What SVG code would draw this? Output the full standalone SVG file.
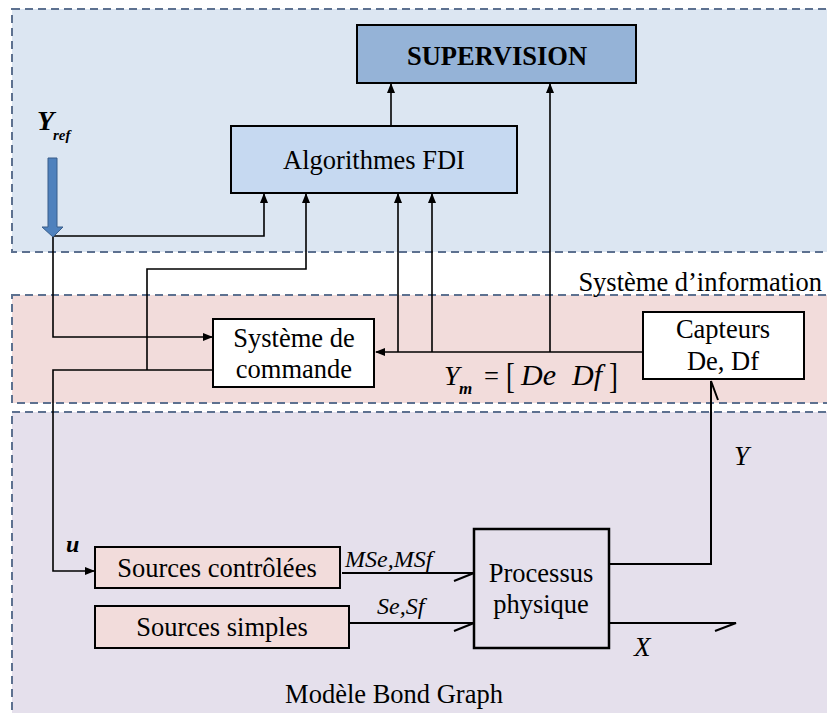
<svg xmlns="http://www.w3.org/2000/svg" width="827" height="713" viewBox="0 0 827 713">
<style>
.region{stroke:#5d7190;stroke-width:2;stroke-dasharray:8 5}
.box{stroke:#000;stroke-width:2}
.t{font-family:'Liberation Serif','Times New Roman',Times,serif;font-size:26.5px;fill:#000}
.m{font-family:'Liberation Serif','Times New Roman',Times,serif;font-style:italic;fill:#000}
.c{fill:none;stroke:#000;stroke-width:1.6}
.bond{fill:none;stroke:#000;stroke-width:2}
</style>
<defs>
<marker id="ah" markerWidth="10" markerHeight="8" refX="9" refY="4" orient="auto" markerUnits="userSpaceOnUse">
<path d="M0,0 L10,4 L0,8 Z" fill="#000"/>
</marker>
</defs>
<rect width="827" height="713" fill="#ffffff"/>
<g id="regions">
<rect class="region" x="12" y="9" width="830" height="243" fill="#dce6f2"/>
<rect class="region" x="12" y="295" width="830" height="108" fill="#f2dcdb"/>
<rect class="region" x="12" y="412" width="830" height="320" fill="#e5e0ec"/>
<text class="t" x="822" y="291" text-anchor="end">Système d’information</text>
<text class="t" x="394" y="703" text-anchor="middle">Modèle Bond Graph</text>
</g>
<g id="connectors">
<line class="c" x1="391" y1="126" x2="391" y2="84" marker-end="url(#ah)"/>
<line class="c" x1="550" y1="352" x2="550" y2="84" marker-end="url(#ah)"/>
<polyline class="c" points="53,236 264,236 264,194" marker-end="url(#ah)"/>
<polyline class="c" points="53,236 53,337 212,337" marker-end="url(#ah)"/>
<polyline class="c" points="147,370 147,269 306,269 306,194" marker-end="url(#ah)"/>
<line class="c" x1="398" y1="352" x2="398" y2="194" marker-end="url(#ah)"/>
<line class="c" x1="432" y1="352" x2="432" y2="194" marker-end="url(#ah)"/>
<line class="c" x1="643" y1="352" x2="376" y2="352" marker-end="url(#ah)"/>
<polyline class="c" points="213,370 53,370 53,571 94,571" marker-end="url(#ah)"/>
<polyline class="bond" points="609,564 711,564 711,381 718,400"/>
<polyline class="bond" points="342,573 474,573 454,581"/>
<polyline class="bond" points="349,623 474,623 454,631"/>
<polyline class="bond" points="609,623 736,623 715,631"/>
</g>
<g id="yref">
<path d="M48,158 H57 V227 H63 L53,237 L42,227 H48 Z" fill="#4f81bd" stroke="#385d8a" stroke-width="1"/>
<text class="m" x="37" y="130" font-size="28" font-weight="bold">Y</text>
<text class="m" x="53" y="140" font-size="15" font-weight="bold">ref</text>
</g>
<g id="supervision">
<rect class="box" x="357" y="25" width="279" height="58" fill="#95b3d7"/>
<text class="t" x="497" y="65" text-anchor="middle" font-weight="bold" font-size="24">SUPERVISION</text>
</g>
<g id="fdi">
<rect class="box" x="231" y="126" width="286" height="67" fill="#c6d9f1"/>
<text class="t" x="374" y="169" text-anchor="middle">Algorithmes FDI</text>
</g>
<g id="commande">
<rect class="box" x="213" y="319" width="161" height="68" fill="#ffffff"/>
<text class="t" x="294" y="347" text-anchor="middle">Système de</text>
<text class="t" x="294" y="378" text-anchor="middle">commande</text>
</g>
<g id="capteurs">
<rect class="box" x="643" y="312" width="161" height="67" fill="#ffffff"/>
<text class="t" x="723" y="338" text-anchor="middle">Capteurs</text>
<text class="t" x="723" y="370" text-anchor="middle">De, Df</text>
</g>
<g id="ym">
<text class="m" x="444" y="385" font-size="28">Y</text>
<text class="m" x="459" y="394" font-size="17" font-weight="bold">m</text>
<text class="t" x="484" y="385" font-size="28">=</text>
<text class="t" font-size="32" transform="translate(506,388) scale(1,1.35)">[</text>
<text class="m" x="521" y="385" font-size="30">De</text>
<text class="m" x="572" y="385" font-size="30">Df</text>
<text class="t" font-size="32" transform="translate(609,388) scale(1,1.35)">]</text>
</g>
<g id="sources-controlees">
<rect class="box" x="95" y="547" width="245" height="41" fill="#f2dcdb"/>
<text class="t" x="217" y="577" text-anchor="middle">Sources contrôlées</text>
</g>
<g id="sources-simples">
<rect class="box" x="95" y="606" width="254" height="42" fill="#f2dcdb"/>
<text class="t" x="222" y="636" text-anchor="middle">Sources simples</text>
</g>
<g id="processus">
<rect x="474" y="529" width="135" height="119" fill="#e5e0ec" stroke="#000" stroke-width="2.5"/>
<text class="t" x="541" y="582" text-anchor="middle">Processus</text>
<text class="t" x="541" y="613" text-anchor="middle">physique</text>
</g>
<g id="labels">
<text class="m" x="66" y="552" font-size="24" font-weight="bold">u</text>
<text class="m" x="345" y="567" font-size="24">MSe,MSf</text>
<text class="m" x="377" y="614" font-size="24">Se,Sf</text>
<text class="m" x="734" y="465" font-size="27">Y</text>
<text class="m" x="634" y="656" font-size="27">X</text>
</g>
</svg>
